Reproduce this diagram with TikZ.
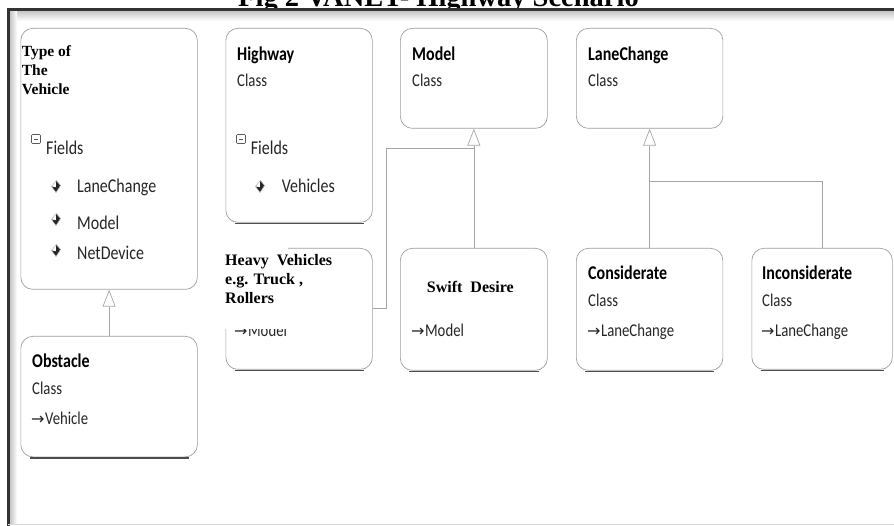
\documentclass[tikz,border=0pt]{standalone}
\usepackage{fontspec}
\setmainfont{Liberation Serif}
\newfontfamily\uifont[FakeStretch=0.82]{Carlito}
\newfontfamily\symfont{DejaVu Sans}
\usetikzlibrary{arrows.meta}
\tikzset{
  umlbox/.style={draw=gray!75, line width=0.7pt, rounded corners=12pt, inner sep=0pt, anchor=north west},
  shadowline/.style={draw=gray!60!black, line width=1.6pt},
  hd/.style={anchor=base west, inner sep=0pt, text=black, font=\uifont\bfseries\fontsize{19.5}{21}\selectfont},
  bd/.style={anchor=base west, inner sep=0pt, text=black!85, font=\uifont\fontsize{18}{20}\selectfont},
  it/.style={anchor=base west, inner sep=0pt, text=black!85, font=\uifont\fontsize{19.5}{21}\selectfont},
  tm/.style={anchor=base west, inner sep=0pt, text=black, font=\bfseries\fontsize{15.5}{18}\selectfont},
  conn/.style={draw=gray!70, line width=0.7pt},
  gen/.style={conn, -{Triangle[open, length=17pt, width=13pt]}},
  frameline/.style={draw=gray!40!black, line width=2.6pt},
  fieldicon/.pic={
    \fill[black!85] (-4.5,0) -- (0,0.8) -- (0.3,-6) -- (4.5,-1) -- (0,6) -- cycle;
    \draw[gray!60, line width=0.5pt] (0.3,-6) -- (4.5,-1) -- (0,6) -- (-4.5,0) -- cycle;
  },
  collapse/.pic={
    \draw[gray!70!black, line width=0.6pt, rounded corners=1pt] (-4.5,-4.5) rectangle (4.5,4.5);
    \draw[gray!70!black, line width=0.6pt] (-2.3,0) -- (2.3,0);
  }
}
\newcommand{\arr}{{\symfont\fontsize{16}{16}\selectfont →}\hspace{0.5pt}}
\begin{document}
\begin{tikzpicture}[x=1pt, y=-1pt]
\useasboundingbox (0,0) rectangle (894,526);
\fill[white] (0,0) rectangle (894,526);
% title
\node[anchor=base, inner sep=0pt, font=\bfseries\fontsize{28.5}{30}\selectfont] (title) at (438.5,7) {Fig 2 VANET- Highway Scenario};
% frame
\shade[top color=gray!45, bottom color=white] (7,11) rectangle (894,21);
\shade[left color=gray!45, right color=white] (10,11) rectangle (17,523);
\draw[frameline] (7,9.7) -- (894,9.7);
\draw[frameline] (8.6,8.4) -- (8.6,526);
\draw[draw=gray!30, line width=1.2pt] (8,524.8) -- (894,524.8);

% boxes
\node[umlbox, minimum width=176.5pt, minimum height=261pt] (type) at (20.5,28) {};
\node[umlbox, minimum width=146.5pt, minimum height=194pt] (hwy) at (225.5,28) {};
\node[umlbox, minimum width=147pt, minimum height=100pt] (model) at (400,28) {};
\node[umlbox, minimum width=146.5pt, minimum height=100pt] (lc) at (576,28) {};
\node[umlbox, minimum width=146.5pt, minimum height=121pt] (heavy) at (225.5,248) {};
\node[umlbox, minimum width=147pt, minimum height=122pt] (swift) at (400,248) {};
\node[umlbox, minimum width=146.5pt, minimum height=122pt] (cons) at (576,248) {};
\node[umlbox, minimum width=140.5pt, minimum height=121pt] (inc) at (751.5,248) {};
\node[umlbox, minimum width=176.5pt, minimum height=120.5pt] (obst) at (20.5,336) {};

% bottom shadows
\foreach \b in {hwy,heavy,swift,cons,inc,obst}{
  \draw[shadowline] ([xshift=9pt,yshift=-1pt]\b.south west) -- ([xshift=-9pt,yshift=-1pt]\b.south east);
}

% connectors
\draw[gen] (obst.north) -- (type.south);
\draw[gen] (swift.north) -- (model.south);
\draw[gen] (cons.north) -- (lc.south);
\coordinate (mj) at (473.5,148.3);
\coordinate (lj) at (649.3,181.7);
\draw[conn] (heavy.east) -- ++(14,0) |- (mj);
\draw[conn] (inc.north) |- (lj);

% Type of the vehicle
\node[tm] (t1) at (21.7,57) {Type of};
\node[tm] (t2) at (21.7,76) {The};
\node[tm] (t3) at (21.7,95) {Vehicle};
\pic at (36,139) {collapse};
\node[it] (tf) at (46,155) {Fields};
\pic at (56,186.5) {fieldicon};
\node[it] (f1) at (77,193) {LaneChange};
\pic at (56,219.5) {fieldicon};
\node[it] (f2) at (77,229.5) {Model};
\pic at (56,250.5) {fieldicon};
\node[it] (f3) at (77,260) {NetDevice};

% Highway
\node[hd] (h1) at (237,61) {Highway};
\node[bd] (h2) at (237,87) {Class};
\pic at (241,139) {collapse};
\node[it] (hf) at (250.7,155) {Fields};
\pic at (260,186.5) {fieldicon};
\node[it] (h3) at (281.7,193) {Vehicles};

% Model, LaneChange
\node[hd] (m1) at (412,61) {Model};
\node[bd] (m2) at (412,87) {Class};
\node[hd] (l1) at (588,61) {LaneChange};
\node[bd] (l2) at (588,87) {Class};

% Heavy vehicles
\node[bd] (hv3) at (234,336.5) {\arr Model};
\fill[white] (222,244) rectangle (288,329);
\fill[white] (222,251) rectangle (332,329);
\node[tm, font=\bfseries\fontsize{16}{18}\selectfont] (hv1) at (225,266) {Heavy\ \ Vehicles};
\node[tm, font=\bfseries\fontsize{16}{18}\selectfont] (hv2) at (225,285) {e.g. Truck ,};
\node[tm, font=\bfseries\fontsize{16}{18}\selectfont] (hv4) at (225,304) {Rollers};

% Swift
\node[tm, font=\bfseries\fontsize{16}{18}\selectfont] (s1) at (426.7,292.5) {Swift\ \ Desire};
\node[bd] (s2) at (411,336.5) {\arr Model};

% Considerate
\node[hd] (k1) at (588,280) {Considerate};
\node[bd] (k2) at (588,307) {Class};
\node[bd] (k3) at (587,336.5) {\arr LaneChange};

% Inconsiderate
\node[hd] (i1) at (762,280) {Inconsiderate};
\node[bd] (i2) at (762,307) {Class};
\node[bd] (i3) at (761,336.5) {\arr LaneChange};

% Obstacle
\node[hd] (o1) at (32,367) {Obstacle};
\node[bd] (o2) at (32,395) {Class};
\node[bd] (o3) at (31,424) {\arr Vehicle};
\end{tikzpicture}
\end{document}
